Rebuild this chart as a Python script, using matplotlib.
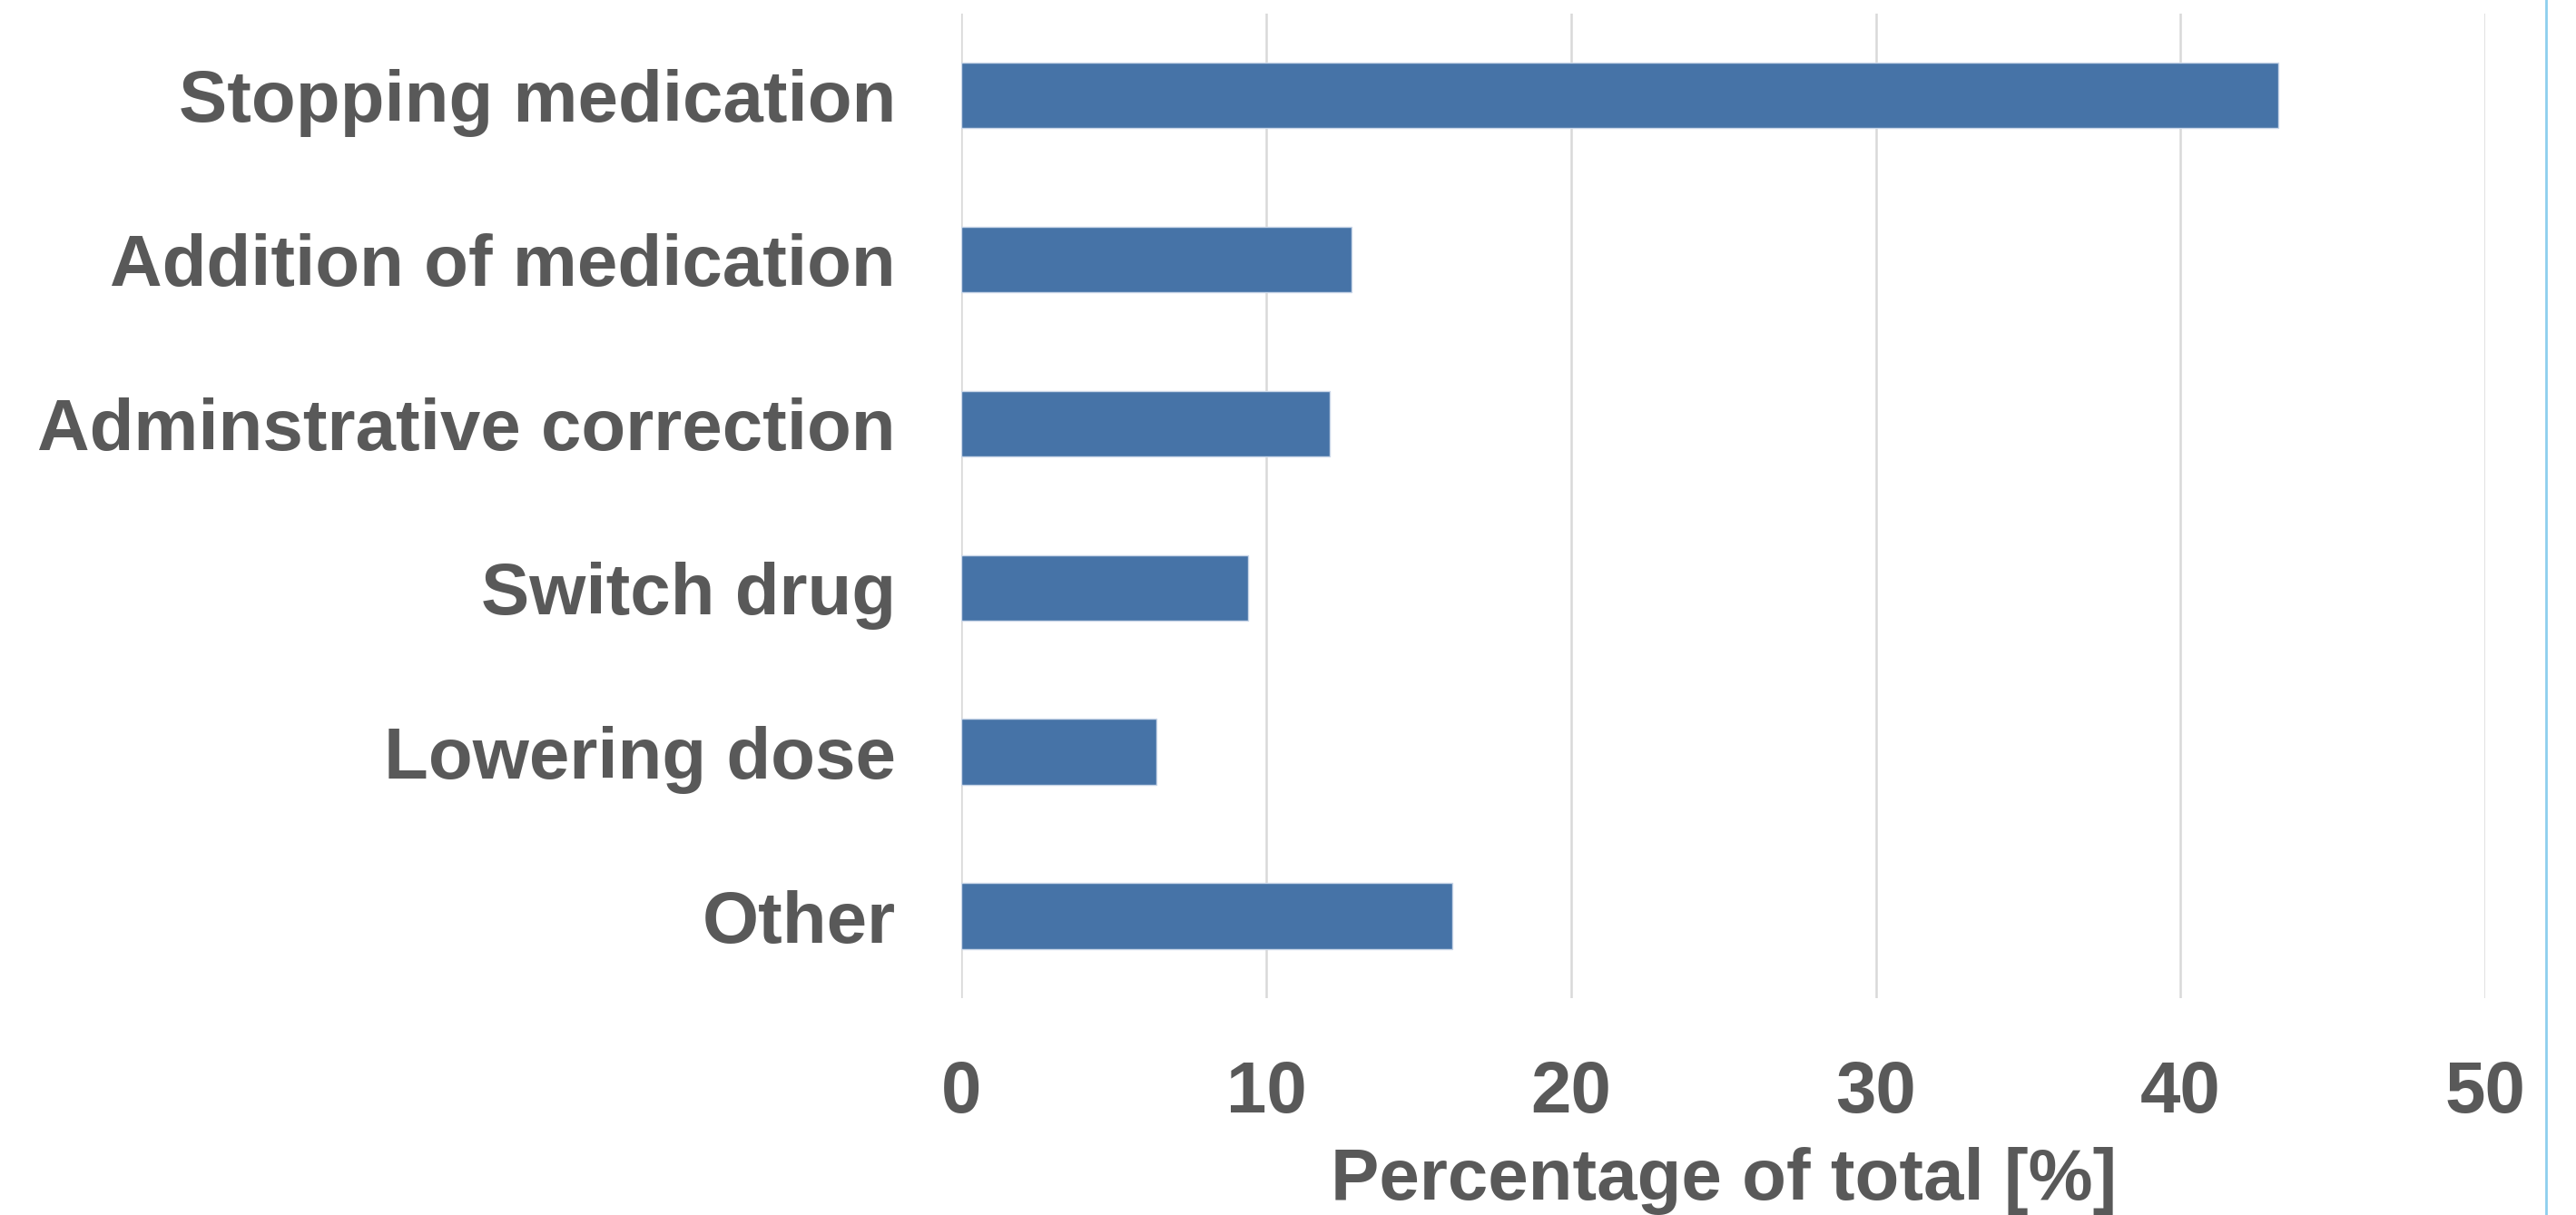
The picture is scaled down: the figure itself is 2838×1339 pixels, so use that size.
import matplotlib
matplotlib.use("Agg")
import matplotlib.pyplot as plt
from matplotlib.lines import Line2D

categories = [
    "Stopping medication",
    "Addition of medication",
    "Adminstrative correction",
    "Switch drug",
    "Lowering dose",
    "Other",
]
percentages = [43.2, 12.8, 12.1, 9.4, 6.4, 16.1]
x_ticks = [0, 10, 20, 30, 40, 50]

text_color = "#595959"
bar_color = "#4673A7"
grid_color = "#D9D9D9"
font_size = 57.5

plt.rcParams["font.family"] = ["Liberation Sans", "DejaVu Sans"]
plt.rcParams["font.weight"] = "bold"

fig = plt.figure(figsize=(28.38, 13.39), dpi=100)
ax = fig.add_axes([0.3732, 0.1785, 0.9648 - 0.3732, 0.989 - 0.1785])

y_pos = list(range(len(categories)))
ax.barh(y_pos, percentages, height=0.4, color=bar_color,
        edgecolor="#C9D6E8", linewidth=1.0, zorder=3)

ax.set_xlim(0, 50)
ax.set_ylim(len(categories) - 0.5, -0.5)
ax.set_xticks(x_ticks)
ax.set_xticklabels([str(t) for t in x_ticks])
ax.set_yticks(y_pos)
ax.set_yticklabels(categories)

ax.tick_params(axis="both", length=0, labelsize=font_size, labelcolor=text_color)
ax.tick_params(axis="y", pad=52)
ax.tick_params(axis="x", pad=49)
for lbl in ax.get_xticklabels() + ax.get_yticklabels():
    lbl.set_fontweight("bold")

ax.grid(axis="x", color=grid_color, linewidth=1.8, zorder=0)
ax.set_axisbelow(True)
for side in ("top", "right", "bottom", "left"):
    ax.spines[side].set_visible(False)

ax.set_xlabel("Percentage of total [%]", fontsize=font_size, fontweight="bold",
              color=text_color, labelpad=15)

# thin light-blue rule along the right border
fig.add_artist(Line2D([0.9884, 0.9884], [0, 1], transform=fig.transFigure,
                      color="#8ECFEE", linewidth=2.0))

fig.savefig("out.png", dpi=100, facecolor="white")
